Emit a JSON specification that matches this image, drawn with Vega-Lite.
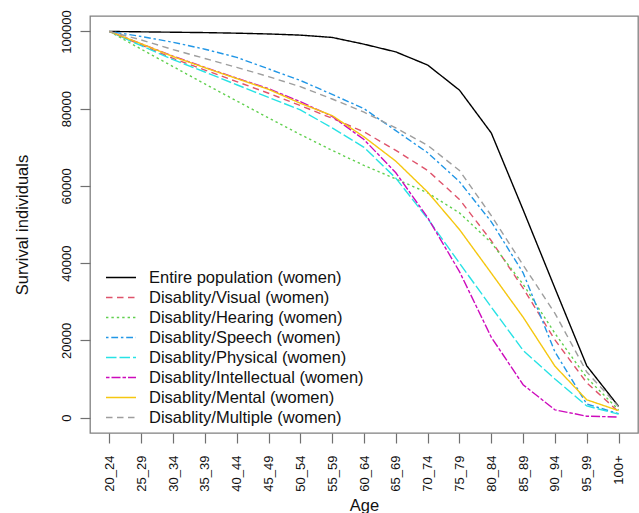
{
  "$schema": "https://vega.github.io/schema/vega-lite/v6.json",
  "width": 548,
  "height": 417,
  "autosize": {"type": "none"},
  "padding": {"left": 90, "top": 16, "right": 1, "bottom": 80},
  "config": {
    "font": "Liberation Sans",
    "view": {"stroke": "#808080", "strokeWidth": 1.3},
    "axis": {"grid": false, "domain": false, "tickColor": "#707070", "tickSize": 10, "tickWidth": 1.2, "labelColor": "#111", "titleColor": "#111", "labelFontSize": 13, "titleFontSize": 16.5, "titleFontWeight": "normal", "labelFont": "Liberation Sans", "titleFont": "Liberation Sans"},
    "legend": {"labelFont": "Liberation Sans"}
  },
  "data": {
    "values": [
      {"age": "20_24", "series": "Entire population (women)", "value": 100000},
      {"age": "25_29", "series": "Entire population (women)", "value": 99900},
      {"age": "30_34", "series": "Entire population (women)", "value": 99800},
      {"age": "35_39", "series": "Entire population (women)", "value": 99700},
      {"age": "40_44", "series": "Entire population (women)", "value": 99550},
      {"age": "45_49", "series": "Entire population (women)", "value": 99350},
      {"age": "50_54", "series": "Entire population (women)", "value": 99050},
      {"age": "55_59", "series": "Entire population (women)", "value": 98450},
      {"age": "60_64", "series": "Entire population (women)", "value": 96700},
      {"age": "65_69", "series": "Entire population (women)", "value": 94700},
      {"age": "70_74", "series": "Entire population (women)", "value": 91300},
      {"age": "75_79", "series": "Entire population (women)", "value": 84800},
      {"age": "80_84", "series": "Entire population (women)", "value": 73700},
      {"age": "85_89", "series": "Entire population (women)", "value": 53800},
      {"age": "90_94", "series": "Entire population (women)", "value": 33500},
      {"age": "95_99", "series": "Entire population (women)", "value": 13400},
      {"age": "100+", "series": "Entire population (women)", "value": 2900},

      {"age": "20_24", "series": "Disablity/Visual (women)", "value": 100000},
      {"age": "25_29", "series": "Disablity/Visual (women)", "value": 96500},
      {"age": "30_34", "series": "Disablity/Visual (women)", "value": 93000},
      {"age": "35_39", "series": "Disablity/Visual (women)", "value": 90000},
      {"age": "40_44", "series": "Disablity/Visual (women)", "value": 87000},
      {"age": "45_49", "series": "Disablity/Visual (women)", "value": 84000},
      {"age": "50_54", "series": "Disablity/Visual (women)", "value": 80800},
      {"age": "55_59", "series": "Disablity/Visual (women)", "value": 77500},
      {"age": "60_64", "series": "Disablity/Visual (women)", "value": 74000},
      {"age": "65_69", "series": "Disablity/Visual (women)", "value": 69200},
      {"age": "70_74", "series": "Disablity/Visual (women)", "value": 64000},
      {"age": "75_79", "series": "Disablity/Visual (women)", "value": 56500},
      {"age": "80_84", "series": "Disablity/Visual (women)", "value": 45800},
      {"age": "85_89", "series": "Disablity/Visual (women)", "value": 33500},
      {"age": "90_94", "series": "Disablity/Visual (women)", "value": 20100},
      {"age": "95_99", "series": "Disablity/Visual (women)", "value": 9000},
      {"age": "100+", "series": "Disablity/Visual (women)", "value": 1500},

      {"age": "20_24", "series": "Disablity/Hearing (women)", "value": 100000},
      {"age": "25_29", "series": "Disablity/Hearing (women)", "value": 95400},
      {"age": "30_34", "series": "Disablity/Hearing (women)", "value": 90900},
      {"age": "35_39", "series": "Disablity/Hearing (women)", "value": 86400},
      {"age": "40_44", "series": "Disablity/Hearing (women)", "value": 82000},
      {"age": "45_49", "series": "Disablity/Hearing (women)", "value": 77600},
      {"age": "50_54", "series": "Disablity/Hearing (women)", "value": 73300},
      {"age": "55_59", "series": "Disablity/Hearing (women)", "value": 69200},
      {"age": "60_64", "series": "Disablity/Hearing (women)", "value": 65300},
      {"age": "65_69", "series": "Disablity/Hearing (women)", "value": 61800},
      {"age": "70_74", "series": "Disablity/Hearing (women)", "value": 58200},
      {"age": "75_79", "series": "Disablity/Hearing (women)", "value": 53000},
      {"age": "80_84", "series": "Disablity/Hearing (women)", "value": 45300},
      {"age": "85_89", "series": "Disablity/Hearing (women)", "value": 34500},
      {"age": "90_94", "series": "Disablity/Hearing (women)", "value": 21800},
      {"age": "95_99", "series": "Disablity/Hearing (women)", "value": 10300},
      {"age": "100+", "series": "Disablity/Hearing (women)", "value": 2000},

      {"age": "20_24", "series": "Disablity/Speech (women)", "value": 100000},
      {"age": "25_29", "series": "Disablity/Speech (women)", "value": 98700},
      {"age": "30_34", "series": "Disablity/Speech (women)", "value": 97200},
      {"age": "35_39", "series": "Disablity/Speech (women)", "value": 95400},
      {"age": "40_44", "series": "Disablity/Speech (women)", "value": 93300},
      {"age": "45_49", "series": "Disablity/Speech (women)", "value": 90300},
      {"age": "50_54", "series": "Disablity/Speech (women)", "value": 87300},
      {"age": "55_59", "series": "Disablity/Speech (women)", "value": 83700},
      {"age": "60_64", "series": "Disablity/Speech (women)", "value": 80000},
      {"age": "65_69", "series": "Disablity/Speech (women)", "value": 74300},
      {"age": "70_74", "series": "Disablity/Speech (women)", "value": 68600},
      {"age": "75_79", "series": "Disablity/Speech (women)", "value": 61100},
      {"age": "80_84", "series": "Disablity/Speech (women)", "value": 50700},
      {"age": "85_89", "series": "Disablity/Speech (women)", "value": 37500},
      {"age": "90_94", "series": "Disablity/Speech (women)", "value": 17000},
      {"age": "95_99", "series": "Disablity/Speech (women)", "value": 3500},
      {"age": "100+", "series": "Disablity/Speech (women)", "value": 1000},

      {"age": "20_24", "series": "Disablity/Physical (women)", "value": 100000},
      {"age": "25_29", "series": "Disablity/Physical (women)", "value": 96300},
      {"age": "30_34", "series": "Disablity/Physical (women)", "value": 92700},
      {"age": "35_39", "series": "Disablity/Physical (women)", "value": 89500},
      {"age": "40_44", "series": "Disablity/Physical (women)", "value": 86200},
      {"age": "45_49", "series": "Disablity/Physical (women)", "value": 82900},
      {"age": "50_54", "series": "Disablity/Physical (women)", "value": 79700},
      {"age": "55_59", "series": "Disablity/Physical (women)", "value": 75000},
      {"age": "60_64", "series": "Disablity/Physical (women)", "value": 70000},
      {"age": "65_69", "series": "Disablity/Physical (women)", "value": 62000},
      {"age": "70_74", "series": "Disablity/Physical (women)", "value": 51500},
      {"age": "75_79", "series": "Disablity/Physical (women)", "value": 40000},
      {"age": "80_84", "series": "Disablity/Physical (women)", "value": 28600},
      {"age": "85_89", "series": "Disablity/Physical (women)", "value": 17400},
      {"age": "90_94", "series": "Disablity/Physical (women)", "value": 10000},
      {"age": "95_99", "series": "Disablity/Physical (women)", "value": 3000},
      {"age": "100+", "series": "Disablity/Physical (women)", "value": 900},

      {"age": "20_24", "series": "Disablity/Intellectual (women)", "value": 100000},
      {"age": "25_29", "series": "Disablity/Intellectual (women)", "value": 96800},
      {"age": "30_34", "series": "Disablity/Intellectual (women)", "value": 93600},
      {"age": "35_39", "series": "Disablity/Intellectual (women)", "value": 90700},
      {"age": "40_44", "series": "Disablity/Intellectual (women)", "value": 87900},
      {"age": "45_49", "series": "Disablity/Intellectual (women)", "value": 85200},
      {"age": "50_54", "series": "Disablity/Intellectual (women)", "value": 81800},
      {"age": "55_59", "series": "Disablity/Intellectual (women)", "value": 78000},
      {"age": "60_64", "series": "Disablity/Intellectual (women)", "value": 72000},
      {"age": "65_69", "series": "Disablity/Intellectual (women)", "value": 63400},
      {"age": "70_74", "series": "Disablity/Intellectual (women)", "value": 51800},
      {"age": "75_79", "series": "Disablity/Intellectual (women)", "value": 37800},
      {"age": "80_84", "series": "Disablity/Intellectual (women)", "value": 20800},
      {"age": "85_89", "series": "Disablity/Intellectual (women)", "value": 8500},
      {"age": "90_94", "series": "Disablity/Intellectual (women)", "value": 2000},
      {"age": "95_99", "series": "Disablity/Intellectual (women)", "value": 350},
      {"age": "100+", "series": "Disablity/Intellectual (women)", "value": 150},

      {"age": "20_24", "series": "Disablity/Mental (women)", "value": 100000},
      {"age": "25_29", "series": "Disablity/Mental (women)", "value": 96800},
      {"age": "30_34", "series": "Disablity/Mental (women)", "value": 93500},
      {"age": "35_39", "series": "Disablity/Mental (women)", "value": 90600},
      {"age": "40_44", "series": "Disablity/Mental (women)", "value": 87800},
      {"age": "45_49", "series": "Disablity/Mental (women)", "value": 85000},
      {"age": "50_54", "series": "Disablity/Mental (women)", "value": 81400},
      {"age": "55_59", "series": "Disablity/Mental (women)", "value": 78200},
      {"age": "60_64", "series": "Disablity/Mental (women)", "value": 72700},
      {"age": "65_69", "series": "Disablity/Mental (women)", "value": 66400},
      {"age": "70_74", "series": "Disablity/Mental (women)", "value": 58400},
      {"age": "75_79", "series": "Disablity/Mental (women)", "value": 48700},
      {"age": "80_84", "series": "Disablity/Mental (women)", "value": 37400},
      {"age": "85_89", "series": "Disablity/Mental (women)", "value": 26000},
      {"age": "90_94", "series": "Disablity/Mental (women)", "value": 13300},
      {"age": "95_99", "series": "Disablity/Mental (women)", "value": 4600},
      {"age": "100+", "series": "Disablity/Mental (women)", "value": 1800},

      {"age": "20_24", "series": "Disablity/Multiple (women)", "value": 100000},
      {"age": "25_29", "series": "Disablity/Multiple (women)", "value": 97800},
      {"age": "30_34", "series": "Disablity/Multiple (women)", "value": 95300},
      {"age": "35_39", "series": "Disablity/Multiple (women)", "value": 93000},
      {"age": "40_44", "series": "Disablity/Multiple (women)", "value": 90700},
      {"age": "45_49", "series": "Disablity/Multiple (women)", "value": 88300},
      {"age": "50_54", "series": "Disablity/Multiple (women)", "value": 85700},
      {"age": "55_59", "series": "Disablity/Multiple (women)", "value": 82500},
      {"age": "60_64", "series": "Disablity/Multiple (women)", "value": 79100},
      {"age": "65_69", "series": "Disablity/Multiple (women)", "value": 75000},
      {"age": "70_74", "series": "Disablity/Multiple (women)", "value": 70500},
      {"age": "75_79", "series": "Disablity/Multiple (women)", "value": 64000},
      {"age": "80_84", "series": "Disablity/Multiple (women)", "value": 52300},
      {"age": "85_89", "series": "Disablity/Multiple (women)", "value": 39500},
      {"age": "90_94", "series": "Disablity/Multiple (women)", "value": 27000},
      {"age": "95_99", "series": "Disablity/Multiple (women)", "value": 11800},
      {"age": "100+", "series": "Disablity/Multiple (women)", "value": 2800}
    ]
  },
  "mark": {"type": "line", "strokeWidth": 1.4, "clip": true},
  "encoding": {
    "x": {
      "field": "age", "type": "ordinal", "title": "Age",
      "sort": ["20_24","25_29","30_34","35_39","40_44","45_49","50_54","55_59","60_64","65_69","70_74","75_79","80_84","85_89","90_94","95_99","100+"],
      "scale": {"type": "point", "padding": 0.61},
      "axis": {"labelAngle": -90, "labelAlign": "right", "labelBaseline": "middle", "labelPadding": 12, "titlePadding": 6}
    },
    "y": {
      "field": "value", "type": "quantitative", "title": "Survival individuals",
      "scale": {"domain": [-4000, 104000], "nice": false, "zero": false},
      "axis": {"values": [0, 20000, 40000, 60000, 80000, 100000], "format": "d", "labelAngle": -90, "labelPadding": 7, "titlePadding": 30}
    },
    "color": {
      "field": "series", "type": "nominal",
      "scale": {
        "domain": ["Entire population (women)", "Disablity/Visual (women)", "Disablity/Hearing (women)", "Disablity/Speech (women)", "Disablity/Physical (women)", "Disablity/Intellectual (women)", "Disablity/Mental (women)", "Disablity/Multiple (women)"],
        "range": ["#000000", "#DF536B", "#61D04F", "#2297E6", "#28E2E5", "#CD0BBC", "#F5C710", "#9E9E9E"]
      },
      "legend": {
        "title": null, "orient": "none", "legendX": 20, "legendY": 250.5,
        "symbolType": "M-1.5,0L1.5,0", "symbolSize": 400, "symbolStrokeWidth": 1.4,
        "labelFontSize": 16.5, "labelOffset": 17, "labelLimit": 400, "labelColor": "#111", "rowPadding": 0
      }
    },
    "strokeDash": {
      "field": "series", "type": "nominal",
      "scale": {
        "domain": ["Entire population (women)", "Disablity/Visual (women)", "Disablity/Hearing (women)", "Disablity/Speech (women)", "Disablity/Physical (women)", "Disablity/Intellectual (women)", "Disablity/Mental (women)", "Disablity/Multiple (women)"],
        "range": [[1, 0], [6.5, 4.5], [2.4, 3], [2.5, 2.8, 6.8, 2.8], [10.5, 3], [3.5, 2, 9, 2], [1, 0], [6.5, 4.5]]
      },
      "legend": {
        "title": null, "orient": "none", "legendX": 20, "legendY": 250.5,
        "symbolType": "M-1.5,0L1.5,0", "symbolSize": 400, "symbolStrokeWidth": 1.4,
        "labelFontSize": 16.5, "labelOffset": 17, "labelLimit": 400, "labelColor": "#111", "rowPadding": 0
      }
    }
  }
}
